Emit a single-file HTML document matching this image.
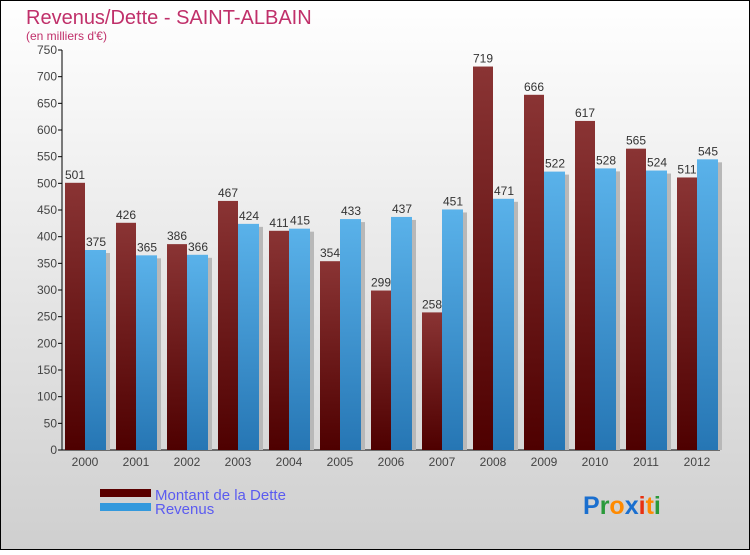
<!DOCTYPE html>
<html><head><meta charset="utf-8"><style>
body{margin:0;width:750px;height:550px;overflow:hidden;font-family:"Liberation Sans",sans-serif}
</style></head><body>
<svg id="chart" width="750" height="550" xmlns="http://www.w3.org/2000/svg">
<defs>
<linearGradient id="bg" x1="0" y1="0" x2="0" y2="1"><stop offset="0" stop-color="#ffffff"/><stop offset="1" stop-color="#cfcfcf"/></linearGradient>
<linearGradient id="gd" x1="0" y1="0" x2="0" y2="1"><stop offset="0" stop-color="#8a3434"/><stop offset="1" stop-color="#4e0000"/></linearGradient>
<linearGradient id="gr" x1="0" y1="0" x2="0" y2="1"><stop offset="0" stop-color="#5ab2ea"/><stop offset="1" stop-color="#2676b4"/></linearGradient>
</defs>
<rect x="0.5" y="0.5" width="749" height="549" fill="url(#bg)" stroke="#000"/>
<text x="26" y="24" font-size="20" fill="#c0306a">Revenus/Dette - SAINT-ALBAIN</text>
<text x="26" y="40" font-size="12" fill="#c0306a">(en milliers d'€)</text>
<g id="axes"></g>
<g id="bars"></g>
<rect x="100" y="489" width="51" height="8" fill="#5a0000"/>
<text x="155" y="500" font-size="15" fill="#5b5bf0">Montant de la Dette</text>
<rect x="100" y="503" width="51" height="8" fill="#3399dd"/>
<text x="155" y="514" font-size="15" fill="#5b5bf0">Revenus</text>
<text x="583" y="514" font-size="25" font-weight="bold"><tspan fill="#1a6fcf">P</tspan><tspan fill="#2a9a3a">r</tspan><tspan fill="#ff8a00">o</tspan><tspan fill="#1a6fcf">x</tspan><tspan fill="#e83010">i</tspan><tspan fill="#ff8a00">t</tspan><tspan fill="#2a9a3a">i</tspan></text>
</svg>
<script>
const years=["2000","2001","2002","2003","2004","2005","2006","2007","2008","2009","2010","2011","2012"];
const dette=[501,426,386,467,411,354,299,258,719,666,617,565,511];
const revenus=[375,365,366,424,415,433,437,451,471,522,528,524,545];
const yTicks=[0,50,100,150,200,250,300,350,400,450,500,550,600,650,700,750];
const NS="http://www.w3.org/2000/svg";
const y=v=>450-v*400/750;
const xc=i=>85+i*51;
function mk(t,a,p,txt){const e=document.createElementNS(NS,t);for(const k in a)e.setAttribute(k,a[k]);if(txt!==undefined)e.textContent=txt;p.appendChild(e);return e;}
const ax=document.getElementById('axes'),bg=document.getElementById('bars');
yTicks.forEach(v=>{
 const t=mk('text',{x:57,y:y(v)+4,'font-size':12,fill:'#444','text-anchor':'end'},ax,v);
 
 
 const l=mk('line',{x1:58,x2:62,y1:y(v),y2:y(v),stroke:'#000'},ax);
 
 
});
const ya=mk('line',{x1:62,x2:62,y1:50,y2:450,stroke:'#000'},ax);


const xa=mk('line',{x1:62,x2:720,y1:450,y2:450,stroke:'#000'},ax);


years.forEach((yr,i)=>{
 const c=xc(i);
 const tl=mk('text',{x:c,y:466,'font-size':12,fill:'#444','text-anchor':'middle'},ax,yr);
 
 
 const s1=mk('rect',{x:c+21,y:y(revenus[i])+3,width:4,height:450-y(revenus[i])-3,fill:'#b8b8b8'},bg);
 
 
 const b1=mk('rect',{x:c-20,y:y(dette[i]),width:20,height:450-y(dette[i]),fill:'url(#gd)'},bg);
 
 
 const b2=mk('rect',{x:c,y:y(revenus[i]),width:21,height:450-y(revenus[i]),fill:'url(#gr)'},bg);
 
 
 const v1=mk('text',{x:c-10,y:y(dette[i])-4,'font-size':12,fill:'#333','text-anchor':'middle'},bg,dette[i]);
 
 
 const v2=mk('text',{x:c+11,y:y(revenus[i])-4,'font-size':12,fill:'#333','text-anchor':'middle'},bg,revenus[i]);
 
 
});
</script>
</body></html>
